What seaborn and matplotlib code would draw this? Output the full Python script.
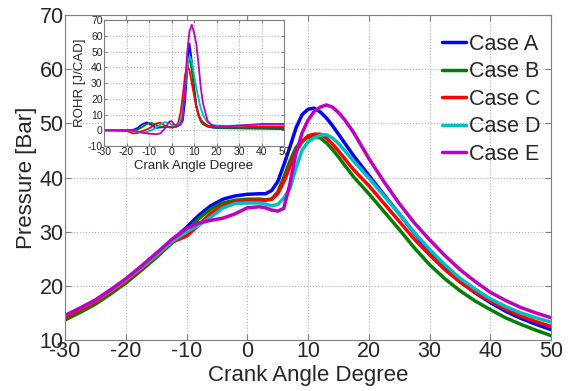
import numpy as np
import pandas as pd
import matplotlib
matplotlib.use("Agg")
import matplotlib.pyplot as plt
import seaborn as sns

# in-cylinder pressure
cases = ["Case A", "Case B", "Case C", "Case D", "Case E"]
colors = ["#0000ff", "#007f00", "#ff0000", "#00bfbf", "#bf00bf"]

crank = [-30, -27.5, -25, -22.5, -20, -17.5, -15, -12.5, -10, -8, -6, -4, -2, 0, 2, 3, 4,
         5, 6, 7, 8, 9, 10, 11, 12, 13, 14, 15, 16, 17.5, 20, 22.5, 25, 27.5, 30, 32.5,
         35, 37.5, 40, 42.5, 45, 47.5, 50]

p_a = [14.3, 15.7, 17.2, 19.0, 21.0, 23.3, 25.7, 28.3, 30.8, 33.0, 34.8, 36.0, 36.6, 36.9,
       37.0, 37.0, 37.6, 39.2, 42.3, 45.6, 49.1, 51.6, 52.6, 52.8, 52.1, 51.0, 49.6, 48.0,
       46.4, 44.0, 40.4, 36.8, 33.3, 29.7, 26.3, 23.3, 20.8, 18.7, 16.9, 15.3, 14.0, 12.9,
       11.9]
p_b = [13.7, 15.1, 16.6, 18.5, 20.5, 22.8, 25.2, 27.8, 30.2, 32.4, 34.2, 35.3, 35.8, 36.0,
       36.0, 35.9, 36.0, 37.3, 40.0, 43.0, 45.5, 46.8, 47.4, 47.6, 47.3, 46.4, 45.2, 43.8,
       42.3, 40.1, 37.0, 33.7, 30.4, 27.0, 23.9, 21.3, 19.1, 17.2, 15.6, 14.1, 12.9, 11.8,
       10.8]
p_c = [14.2, 15.6, 17.0, 18.8, 20.8, 23.0, 25.4, 28.0, 29.2, 31.2, 33.4, 34.8, 35.5, 35.8,
       35.8, 35.8, 36.0, 37.0, 39.2, 42.0, 44.8, 46.6, 47.7, 48.0, 48.0, 47.3, 46.2, 44.9,
       43.5, 41.4, 38.5, 35.2, 31.9, 28.6, 25.7, 23.0, 20.7, 18.8, 17.2, 15.7, 14.4, 13.4,
       12.5]
p_d = [14.5, 15.9, 17.3, 19.1, 21.1, 23.3, 25.6, 28.1, 30.0, 31.2, 32.7, 34.4, 35.2, 35.3,
       35.3, 35.1, 34.8, 35.0, 36.2, 37.9, 41.7, 45.0, 46.6, 47.3, 47.8, 47.9, 47.3, 46.3,
       45.0, 43.0, 39.9, 36.6, 33.3, 29.8, 26.7, 23.9, 21.4, 19.4, 17.6, 16.2, 15.0, 14.1,
       13.3]
p_e = [14.5, 15.9, 17.4, 19.3, 21.3, 23.6, 26.0, 28.5, 30.6, 31.6, 32.1, 32.5, 33.3, 34.4,
       34.6, 34.4, 34.0, 33.8, 34.3, 38.8, 44.4, 48.2, 50.6, 52.2, 53.0, 53.4, 53.0, 52.0,
       50.7, 48.3, 43.5, 39.2, 35.2, 31.6, 28.5, 25.6, 23.0, 20.8, 18.8, 17.3, 16.0, 15.0,
       14.1]

# rate of heat release (inset)
crank_r = [-30, -20, -17, -15, -13, -11, -9, -7, -5, -3, -1, 0, 1, 2, 3, 4, 5, 6, 7, 8,
           9, 10, 11, 12, 13, 14, 16, 18, 20, 25, 30, 40, 50]

r_a = [0, 0, 0.3, 1.5, 3.8, 5.0, 3.5, 1.5, 1.8, 2.0, 2.0, 2.0, 2.0, 2.2, 2.8, 4.0, 6.0, 18,
       38, 55, 44, 28, 16, 10, 6.5, 4.5, 2.8, 1.8, 1.5, 1.3, 1.2, 1.0, 0.8]
r_b = [0, 0, 0, 0.5, 2.0, 4.0, 4.6, 3.5, 2.2, 2.0, 2.0, 2.0, 2.0, 2.2, 3.0, 6.0, 14, 28,
       42, 45.5, 38, 25, 15, 9, 5.5, 3.8, 2.2, 1.8, 1.6, 1.5, 1.5, 1.5, 1.5]
r_c = [0, -0.5, -2.0, -1.8, -0.5, 0.5, 2.0, 4.2, 4.8, 3.0, 1.8, 1.7, 1.8, 2.5, 5.0, 11, 22,
       35, 41, 38, 30, 22, 15, 10, 7, 5, 3, 2.5, 2.2, 2.0, 2.0, 2.4, 2.5]
r_d = [0, 0, -0.5, -1.0, -1.5, -1.2, 0, 1.5, 3.5, 5.2, 4.5, 3.5, 3.0, 3.0, 3.5, 6, 13, 26,
       40, 47, 44, 35, 27, 20, 14, 9.5, 5, 3.5, 3.0, 2.8, 3.0, 3.5, 4.0]
r_e = [0, 0, -0.3, -0.8, -1.5, -2.0, -2.3, -2.5, -2.0, 1.0, 5.5, 5.8, 4.0, 3.2, 3.0, 3.5, 8,
       28, 50, 63, 67, 62, 55, 42, 27, 17, 6, 3, 2.5, 2.5, 3.0, 4.0, 4.0]

pres = pd.concat([pd.DataFrame({"CA": crank, "P": v, "Case": c})
                  for c, v in zip(cases, [p_a, p_b, p_c, p_d, p_e])])
rohr = pd.concat([pd.DataFrame({"CA": crank_r, "R": v, "Case": c})
                  for c, v in zip(cases, [r_a, r_b, r_c, r_d, r_e])])

sns.set_style("ticks", {"xtick.direction": "in", "ytick.direction": "in"})
plt.rcParams["font.family"] = ["Liberation Sans", "DejaVu Sans"]
plt.rcParams["axes.unicode_minus"] = False
pal = dict(zip(cases, colors))
grid_kw = dict(color="#b0b0b0", linestyle=":", linewidth=0.8)

fig = plt.figure(figsize=(5.70, 3.91), dpi=100)
ax = fig.add_axes([0.114, 0.1304, 0.853, 0.8312])
sns.lineplot(data=pres, x="CA", y="P", hue="Case", palette=pal, linewidth=2.5, ax=ax)
ax.set_xlim(-30, 50)
ax.set_ylim(10, 70)
ax.set_xticks(np.arange(-30, 51, 10))
ax.set_yticks(np.arange(10, 71, 10))
ax.grid(True, **grid_kw)
ax.tick_params(labelsize=15.5, length=4, color="#808080", top=True, right=True, pad=1)
for s in ax.spines.values():
    s.set_color("#808080")
    s.set_linewidth(0.8)
ax.set_xlabel("Crank Angle Degree", fontsize=16, labelpad=2)
ax.set_ylabel("Pressure [Bar]", fontsize=16, labelpad=2)
ax.legend(loc="upper right", bbox_to_anchor=(0.996, 0.968), frameon=False, fontsize=15.5,
          handlelength=1.1, handletextpad=0.15, labelspacing=0.3, borderaxespad=0)
for ln in ax.get_legend().get_lines():
    ln.set_linewidth(2.5)

# inset: ROHR
ins = fig.add_axes([0.1825, 0.6266, 0.3158, 0.3222])
ins.set_facecolor("white")
sns.lineplot(data=rohr, x="CA", y="R", hue="Case", palette=pal, linewidth=1.3, ax=ins,
             legend=False)
ins.set_xlim(-30, 50)
ins.set_ylim(-10, 70)
ins.set_xticks(np.arange(-30, 51, 10))
ins.set_yticks(np.arange(-10, 71, 10))
ins.grid(True, **grid_kw)
ins.tick_params(labelsize=7.5, length=2.5, color="#808080", top=True, right=True, pad=1)
for s in ins.spines.values():
    s.set_color("#808080")
    s.set_linewidth(0.8)
ins.set_xlabel("Crank Angle Degree", fontsize=9.5, labelpad=2)
ins.set_ylabel("ROHR [J/CAD]", fontsize=9.5, labelpad=1)

fig.savefig("out.png", dpi=100)
